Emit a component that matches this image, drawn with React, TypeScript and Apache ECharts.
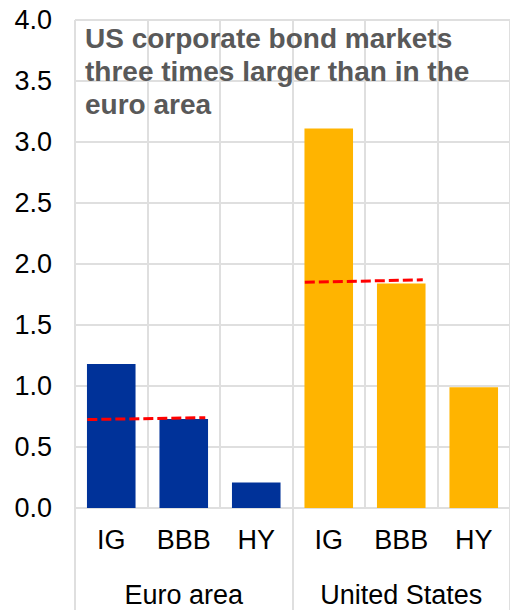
import React, { useEffect, useRef } from "react";
import * as echarts from "echarts";

// Outstanding corporate bonds by rating bucket
const ratingLabels = ["IG", "BBB", "HY", "IG", "BBB", "HY"];
const regionLabels = ["Euro area", "United States"];
const euroAreaValues = [1.18, 0.73, 0.21];
const unitedStatesValues = [3.11, 1.84, 0.99];
// Reference levels drawn as dashed lines from IG to BBB: [fromIndex, toIndex, fromValue, toValue]
const euroAreaRefLine = [0, 1, 0.725, 0.74];
const unitedStatesRefLine = [3, 4, 1.85, 1.87];
const yTicks = { min: 0, max: 4, interval: 0.5 };
const titleText = "US corporate bond markets\nthree times larger than in the\neuro area";

const EURO_BLUE = "#003299";
const US_YELLOW = "#FFB400";
const GRID_GREY = "#dfdfdf";
const FONT = "Liberation Sans, Arial, sans-serif";

export default function App() {
  const ref = useRef<HTMLDivElement>(null);

  useEffect(() => {
    if (!ref.current) return;
    const chart = echarts.init(ref.current, undefined, { renderer: "svg" });

    const barData = [
      ...euroAreaValues.map((v) => ({ value: v, itemStyle: { color: EURO_BLUE } })),
      ...unitedStatesValues.map((v) => ({ value: v, itemStyle: { color: US_YELLOW } })),
    ];

    chart.setOption({
      animation: false,
      title: {
        text: titleText,
        left: 85,
        top: 22,
        padding: 0,
        textStyle: {
          fontFamily: FONT,
          fontSize: 28,
          fontWeight: "bold",
          color: "#595959",
          lineHeight: 33,
        },
      },
      grid: { left: 75, top: 20, right: -3, bottom: 102, containLabel: false },
      xAxis: [
        {
          type: "category",
          data: ratingLabels,
          position: "bottom",
          axisLine: { show: true, lineStyle: { color: GRID_GREY, width: 2 } },
          axisTick: { show: false },
          splitLine: { show: true, lineStyle: { color: GRID_GREY, width: 2 } },
          axisLabel: { fontFamily: FONT, fontSize: 27, color: "#000", margin: 18 },
        },
        {
          type: "category",
          data: regionLabels,
          position: "bottom",
          axisLine: { show: false },
          axisTick: { show: true, length: 104, lineStyle: { color: GRID_GREY, width: 2 } },
          splitLine: { show: false },
          axisLabel: { fontFamily: FONT, fontSize: 27, color: "#000", margin: 73 },
        },
      ],
      yAxis: {
        type: "value",
        min: yTicks.min,
        max: yTicks.max,
        interval: yTicks.interval,
        axisLine: { show: false },
        axisTick: { show: false },
        splitLine: { show: true, lineStyle: { color: GRID_GREY, width: 2 } },
        axisLabel: {
          fontFamily: FONT,
          fontSize: 27,
          color: "#000",
          margin: 23,
          formatter: (v: number) => v.toFixed(1),
        },
      },
      series: [
        {
          type: "bar",
          xAxisIndex: 0,
          data: barData,
          barCategoryGap: "33%",
        },
        {
          type: "custom",
          xAxisIndex: 0,
          encode: { x: [0, 1], y: [2, 3] },
          data: [euroAreaRefLine, unitedStatesRefLine],
          z: 5,
          renderItem: (_params: any, api: any) => {
            const p0 = api.coord([api.value(0), api.value(2)]);
            const p1 = api.coord([api.value(1), api.value(3)]);
            const band = api.size([1, 0])[0];
            const half = band * 0.33;
            return {
              type: "line",
              shape: { x1: p0[0] - half, y1: p0[1], x2: p1[0] + half * 0.9, y2: p1[1] },
              style: { stroke: "#ff0000", lineWidth: 3, lineDash: [10, 4] },
            };
          },
        },
      ],
    });

    return () => chart.dispose();
  }, []);

  return (
    <div
      ref={ref}
      style={{ position: "fixed", left: 0, top: 0, width: 510, height: 610, background: "#fff" }}
    />
  );
}
